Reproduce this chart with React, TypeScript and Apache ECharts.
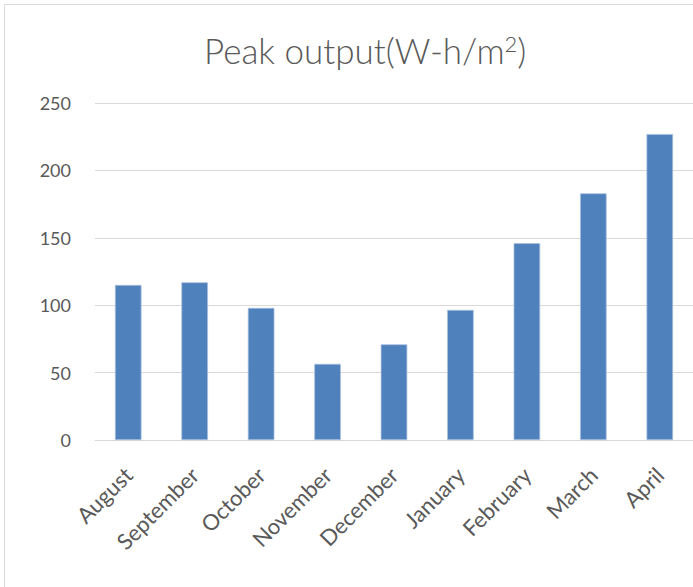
import React, { useEffect, useRef } from "react";
import * as echarts from "echarts";

const categories = ["August", "September", "October", "November", "December", "January", "February", "March", "April"];
const peakOutput = [115, 117, 98, 56.5, 71, 96.5, 146, 183, 227];
const yTicks = { min: 0, max: 250, interval: 50 };

export default function App() {
  const ref = useRef<HTMLDivElement>(null);
  useEffect(() => {
    if (!ref.current) return;
    const chart = echarts.init(ref.current, undefined, { renderer: "svg" });
    chart.setOption({
      animation: false,
      backgroundColor: "#ffffff",
      textStyle: { fontFamily: "Lato" },
      title: {
        text: "Peak output(W-h/m{sup|2})",
        left: 199,
        top: 27,
        textStyle: {
          fontFamily: "Lato",
          fontWeight: 300,
          fontSize: 35,
          color: "#595959",
          rich: {
            sup: { fontFamily: "Lato", fontWeight: 300, fontSize: 22, color: "#595959", verticalAlign: "top" },
          },
        },
      },
      graphic: [
        {
          type: "rect",
          shape: { x: 4.5, y: 4.5, width: 900, height: 900 },
          style: { fill: "none", stroke: "#D9D9D9", lineWidth: 1 },
          silent: true,
        },
      ],
      grid: { left: 95, right: -5, top: 103, bottom: 147, containLabel: false },
      xAxis: {
        type: "category",
        data: categories,
        axisLine: { lineStyle: { color: "#D9D9D9", width: 1 } },
        axisTick: { show: false },
        axisLabel: { rotate: 45, margin: 31, fontSize: 22, color: "#595959", fontFamily: "Lato", interval: 0 },
      },
      yAxis: {
        type: "value",
        min: yTicks.min,
        max: yTicks.max,
        interval: yTicks.interval,
        axisLine: { show: false },
        axisTick: { show: false },
        splitLine: { lineStyle: { color: "#D9D9D9", width: 1 } },
        axisLabel: { margin: 24, fontSize: 18, color: "#595959", fontFamily: "Lato" },
      },
      series: [
        {
          type: "bar",
          data: peakOutput,
          barWidth: "40%",
          itemStyle: { color: "#4F81BD", borderColor: "#A9C0DE", borderWidth: 0.75 },
        },
      ],
    });
    return () => chart.dispose();
  }, []);
  return <div ref={ref} style={{ position: "fixed", left: 0, top: 0, width: 693, height: 587 }} />;
}
